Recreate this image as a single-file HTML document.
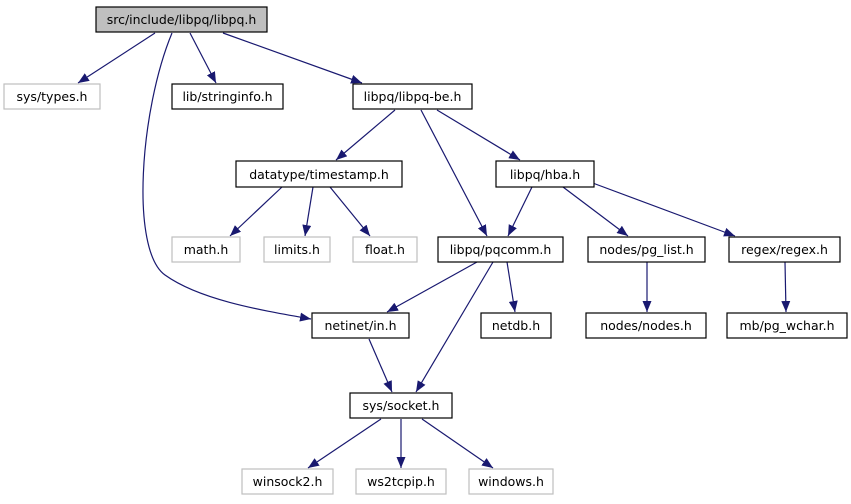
<!DOCTYPE html>
<html><head><meta charset="utf-8"><style>
html,body{margin:0;padding:0;background:#fff;width:851px;height:504px;overflow:hidden}
text{font-family:"DejaVu Sans","Liberation Sans",sans-serif;font-size:12.5px;fill:#000}
</style></head><body>
<svg width="851" height="504" viewBox="0 0 851 504" xmlns="http://www.w3.org/2000/svg">
<defs>
<marker id="a" markerWidth="11" markerHeight="9" refX="11" refY="4.5" orient="auto" markerUnits="userSpaceOnUse">
<path d="M0,0 L11,4.5 L0,9 z" fill="#191970"/>
</marker>
</defs>
<g stroke="#191970" stroke-width="1.2" fill="none" marker-end="url(#a)">
<line x1="155" y1="33" x2="78" y2="83"/>
<line x1="190" y1="33" x2="216" y2="83"/>
<line x1="223" y1="33" x2="362" y2="83"/>
<path d="M172,33 C140,110 130,250 165,275 C200,300 260,310 311,319"/>
<line x1="395" y1="110" x2="336" y2="160"/>
<line x1="421" y1="110" x2="487" y2="236"/>
<line x1="437" y1="110" x2="520" y2="160"/>
<line x1="282" y1="187" x2="230" y2="236"/>
<line x1="313" y1="187" x2="305" y2="236"/>
<line x1="330" y1="187" x2="370" y2="236"/>
<line x1="532" y1="187" x2="508" y2="236"/>
<line x1="563" y1="187" x2="628" y2="236"/>
<line x1="590" y1="182" x2="735" y2="236"/>
<line x1="477" y1="262" x2="387" y2="312"/>
<line x1="493" y1="262" x2="416" y2="392"/>
<line x1="507" y1="262" x2="515" y2="312"/>
<line x1="647" y1="262" x2="647" y2="312"/>
<line x1="785" y1="262" x2="786" y2="312"/>
<line x1="369" y1="339" x2="392" y2="392"/>
<line x1="381" y1="419" x2="308" y2="468"/>
<line x1="401" y1="419" x2="401" y2="468"/>
<line x1="422" y1="419" x2="493" y2="468"/>
</g>
<g stroke-width="1.2">
<rect x="96" y="7" width="171" height="25" fill="#bfbfbf" stroke="#000"/>
<rect x="4" y="84" width="96" height="25" fill="#fff" stroke="#bfbfbf"/>
<rect x="172" y="84" width="111" height="25" fill="#fff" stroke="#000"/>
<rect x="353" y="84" width="119" height="25" fill="#fff" stroke="#000"/>
<rect x="236" y="161" width="166" height="26" fill="#fff" stroke="#000"/>
<rect x="496" y="161" width="98" height="26" fill="#fff" stroke="#000"/>
<rect x="172" y="237" width="68" height="25" fill="#fff" stroke="#bfbfbf"/>
<rect x="264" y="237" width="66" height="25" fill="#fff" stroke="#bfbfbf"/>
<rect x="353" y="237" width="64" height="25" fill="#fff" stroke="#bfbfbf"/>
<rect x="438" y="237" width="125" height="25" fill="#fff" stroke="#000"/>
<rect x="588" y="237" width="117" height="25" fill="#fff" stroke="#000"/>
<rect x="729" y="237" width="111" height="25" fill="#fff" stroke="#000"/>
<rect x="312" y="313" width="97" height="25" fill="#fff" stroke="#000"/>
<rect x="481" y="313" width="70" height="25" fill="#fff" stroke="#000"/>
<rect x="586" y="313" width="120" height="25" fill="#fff" stroke="#000"/>
<rect x="727" y="313" width="120" height="25" fill="#fff" stroke="#000"/>
<rect x="350" y="393" width="102" height="25" fill="#fff" stroke="#000"/>
<rect x="242" y="469" width="91" height="25" fill="#fff" stroke="#bfbfbf"/>
<rect x="356" y="469" width="90" height="25" fill="#fff" stroke="#bfbfbf"/>
<rect x="469" y="469" width="84" height="25" fill="#fff" stroke="#bfbfbf"/>
</g>
<g text-anchor="middle">
<text x="181.5" y="24">src/include/libpq/libpq.h</text>
<text x="52" y="101">sys/types.h</text>
<text x="227.5" y="101">lib/stringinfo.h</text>
<text x="412.5" y="101">libpq/libpq-be.h</text>
<text x="319" y="179">datatype/timestamp.h</text>
<text x="545" y="179">libpq/hba.h</text>
<text x="206" y="254">math.h</text>
<text x="297" y="254">limits.h</text>
<text x="385" y="254">float.h</text>
<text x="500.5" y="254">libpq/pqcomm.h</text>
<text x="646.5" y="254">nodes/pg_list.h</text>
<text x="784.5" y="254">regex/regex.h</text>
<text x="360.5" y="330">netinet/in.h</text>
<text x="516" y="330">netdb.h</text>
<text x="646" y="330">nodes/nodes.h</text>
<text x="787" y="330">mb/pg_wchar.h</text>
<text x="401" y="410">sys/socket.h</text>
<text x="287.5" y="486">winsock2.h</text>
<text x="401" y="486">ws2tcpip.h</text>
<text x="511" y="486">windows.h</text>
</g>
</svg>
</body></html>
